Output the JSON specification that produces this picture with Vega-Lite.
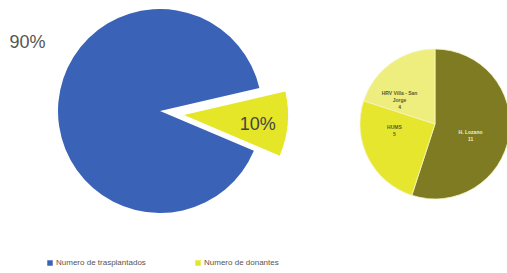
{
  "$schema": "https://vega.github.io/schema/vega-lite/v6.json",
  "padding": 0,
  "spacing": 38,
  "background": "white",
  "config": {"view": {"stroke": null}, "font": "Liberation Sans"},
  "resolve": {"scale": {"color": "independent", "theta": "independent"}},
  "hconcat": [
    {
      "width": 320,
      "height": 222,
      "data": {"values": [
        {"cat": "Numero de trasplantados", "value": 90, "label": "90%"},
        {"cat": "Numero de donantes", "value": 10, "label": "10%"}
      ]},
      "transform": [
        {"stack": "value", "groupby": [], "sort": [{"field": "value", "order": "ascending"}], "as": ["v0", "v1"]},
        {"calculate": "(datum.v0 + datum.v1) / 2", "as": "vm"}
      ],
      "layer": [
        {
          "transform": [{"filter": "datum.cat === 'Numero de trasplantados'"}],
          "mark": {"type": "arc", "outerRadius": 102},
          "encoding": {
            "theta": {"field": "v0", "type": "quantitative", "scale": {"domain": [0, 100], "range": [1.344, 7.627]}},
            "theta2": {"field": "v1"},
            "color": {
              "field": "cat", "type": "nominal",
              "scale": {"domain": ["Numero de trasplantados", "Numero de donantes"], "range": ["#3a62b6", "#e6e629"]},
              "legend": {"orient": "none", "legendX": 46, "legendY": 259, "direction": "horizontal", "title": null, "symbolType": "square", "symbolSize": 30, "labelFontSize": 8, "labelColor": "#555555", "columnPadding": 48, "labelOffset": 2}
            }
          }
        },
        {
          "transform": [{"filter": "datum.cat === 'Numero de donantes'"}],
          "mark": {"type": "arc", "outerRadius": 104, "xOffset": 24, "yOffset": 4},
          "encoding": {
            "theta": {"field": "v0", "type": "quantitative", "scale": {"domain": [0, 100], "range": [1.344, 7.627]}},
            "theta2": {"field": "v1"},
            "color": {"field": "cat", "type": "nominal"}
          }
        },
        {
          "transform": [{"filter": "datum.cat === 'Numero de donantes'"}],
          "mark": {"type": "text", "radius": 74, "xOffset": 24, "yOffset": 8, "fontSize": 18, "color": "#444444"},
          "encoding": {
            "theta": {"field": "vm", "type": "quantitative", "scale": {"domain": [0, 100], "range": [1.344, 7.627]}},
            "text": {"field": "label"}
          }
        },
        {
          "transform": [{"filter": "datum.cat === 'Numero de trasplantados'"}],
          "mark": {"type": "text", "radius": 148, "dx": 15, "dy": -55, "fontSize": 18, "color": "#555555"},
          "encoding": {
            "theta": {"field": "vm", "type": "quantitative", "scale": {"domain": [0, 100], "range": [1.344, 7.627]}},
            "text": {"field": "label"}
          }
        }
      ]
    },
    {
      "width": 150,
      "height": 248,
      "data": {"values": [
        {"hosp": "H. Lozano", "n": 11, "label": "H. Lozano\n11"},
        {"hosp": "HUMS", "n": 5, "label": "HUMS\n5"},
        {"hosp": "HRV Villa - San Jorge", "n": 4, "label": "HRV Villa - San\nJorge\n4"}
      ]},
      "transform": [
        {"stack": "n", "groupby": [], "sort": [{"field": "n", "order": "descending"}], "as": ["n0", "n1"]},
        {"calculate": "(datum.n0 + datum.n1) / 2", "as": "nm"}
      ],
      "layer": [
        {
          "mark": {"type": "arc", "outerRadius": 75, "stroke": "#f4f4c0", "strokeWidth": 0.8},
          "encoding": {
            "theta": {"field": "n0", "type": "quantitative", "scale": {"domain": [0, 20], "range": [0, 6.2832]}},
            "theta2": {"field": "n1"},
            "color": {
              "field": "hosp", "type": "nominal",
              "scale": {"domain": ["H. Lozano", "HUMS", "HRV Villa - San Jorge"], "range": ["#7e7b22", "#e6e62e", "#eeee7e"]},
              "legend": null
            }
          }
        },
        {
          "transform": [{"filter": "datum.hosp === 'H. Lozano'"}],
          "mark": {"type": "text", "radius": 36, "dy": 2, "fontSize": 5, "fontWeight": "bold", "lineBreak": "\n", "color": "#f0f0d0"},
          "encoding": {
            "theta": {"field": "nm", "type": "quantitative", "scale": {"domain": [0, 20], "range": [0, 6.2832]}},
            "text": {"field": "label"}
          }
        },
        {
          "transform": [{"filter": "datum.hosp === 'HUMS'"}],
          "mark": {"type": "text", "radius": 41, "dx": -4, "dy": -16, "fontSize": 5, "fontWeight": "bold", "lineBreak": "\n", "color": "#5a5a30"},
          "encoding": {
            "theta": {"field": "nm", "type": "quantitative", "scale": {"domain": [0, 20], "range": [0, 6.2832]}},
            "text": {"field": "label"}
          }
        },
        {
          "transform": [{"filter": "datum.hosp === 'HRV Villa - San Jorge'"}],
          "mark": {"type": "text", "radius": 45, "dx": -9, "dy": 5, "fontSize": 5, "fontWeight": "bold", "lineBreak": "\n", "color": "#5a5a30"},
          "encoding": {
            "theta": {"field": "nm", "type": "quantitative", "scale": {"domain": [0, 20], "range": [0, 6.2832]}},
            "text": {"field": "label"}
          }
        }
      ]
    }
  ]
}
